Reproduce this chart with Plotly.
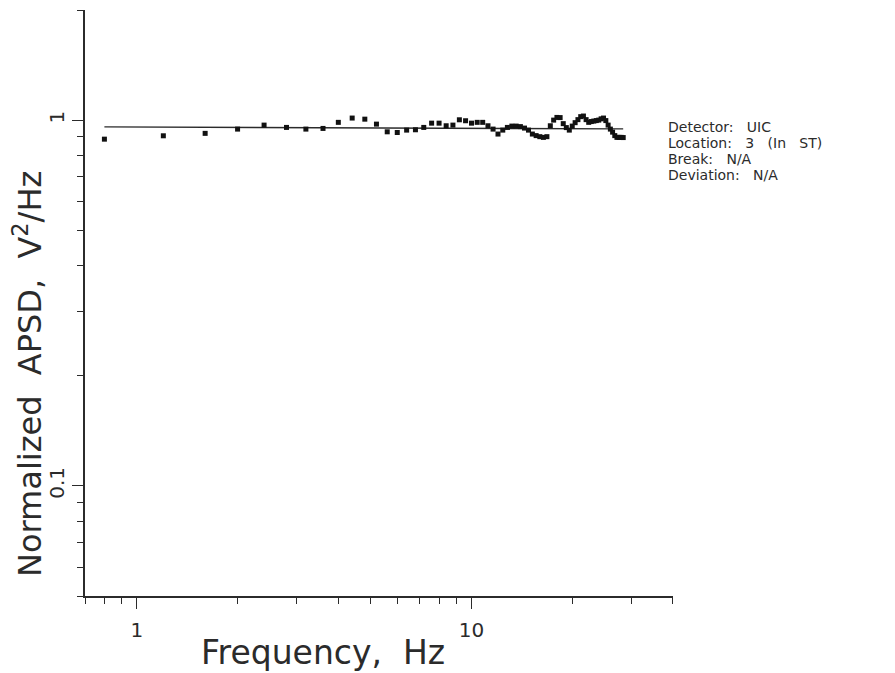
import plotly.graph_objects as go

# ---- data ----
freq_hz = [0.8, 1.2, 1.6, 2.0, 2.4, 2.8, 3.2, 3.6, 4.0, 4.4, 4.8, 5.2, 5.6, 6.0, 6.4, 6.8,
           7.2, 7.6, 8.0, 8.4, 8.8, 9.2, 9.6, 10.0, 10.4, 10.8, 11.2, 11.6, 12.0, 12.4,
           12.8, 13.2, 13.6, 14.0, 14.4, 14.8, 15.2, 15.6, 16.0, 16.4, 16.8, 17.2, 17.6,
           18.0, 18.4, 18.8, 19.2, 19.6, 20.0, 20.4, 20.8, 21.2, 21.6, 22.0, 22.4, 22.8,
           23.2, 23.6, 24.0, 24.4, 24.8, 25.2, 25.6, 26.0, 26.4, 26.8, 27.2, 27.6, 28.0, 28.4]
apsd = [0.887, 0.906, 0.920, 0.945, 0.969, 0.955, 0.945, 0.949, 0.986, 1.013, 1.006, 0.975,
        0.929, 0.925, 0.939, 0.941, 0.955, 0.981, 0.981, 0.965, 0.969, 1.002, 0.996, 0.981,
        0.986, 0.986, 0.965, 0.945, 0.916, 0.939, 0.955, 0.963, 0.963, 0.960, 0.951, 0.939,
        0.916, 0.907, 0.901, 0.897, 0.901, 0.965, 1.000, 1.017, 1.016, 0.978, 0.954, 0.939,
        0.963, 0.984, 1.003, 1.022, 1.026, 1.003, 0.986, 0.991, 0.994, 0.997, 1.000, 1.008,
        1.013, 0.997, 0.969, 0.945, 0.927, 0.907, 0.897, 0.897, 0.897, 0.896]
fit_freq = [0.8, 28.4]
fit_apsd = [0.958, 0.946]

x_major = [1, 10]
x_major_text = ["1", "10"]
x_minor = [0.7, 0.8, 0.9, 2, 3, 4, 5, 6, 7, 8, 9, 20, 30, 40]
y_major = [0.1, 1]
y_major_text = ["0.1", "1"]
y_minor = [0.05, 0.06, 0.07, 0.08, 0.09, 0.2, 0.3, 0.4, 0.5, 0.6, 0.7, 0.8, 0.9, 2]

S = "\u00a0\u00a0 "
info_lines = ["Detector:" + S + "UIC", "Location:" + S + "3" + S + "(In" + S + "ST)",
              "Break:" + S + "N/A", "Deviation:" + S + "N/A"]

FONT = "DejaVu Sans"
INK = "#2b2b2b"

fig = go.Figure()
fig.add_trace(go.Scatter(x=fit_freq, y=fit_apsd, mode="lines",
                         line=dict(color=INK, width=1.3), showlegend=False))
fig.add_trace(go.Scatter(x=freq_hz, y=apsd, mode="markers",
                         marker=dict(symbol="square", size=5, color="#111111"),
                         showlegend=False))

axis_common = dict(type="log", showgrid=False, zeroline=False, showline=True,
                   linecolor=INK, linewidth=1.5, ticks="outside", ticklen=11,
                   tickwidth=1.3, tickcolor=INK, mirror=False,
                   tickfont=dict(family=FONT, size=20, color=INK))

fig.update_xaxes(**axis_common, range=[-0.1549, 1.6021], tickmode="array",
                 tickvals=x_major, ticktext=x_major_text, ticklabelstandoff=4,
                 minor=dict(tickmode="array", tickvals=x_minor, ticks="outside",
                            ticklen=6, tickwidth=1.3, tickcolor=INK))
fig.update_yaxes(**axis_common, range=[-1.30103, 0.30103], tickmode="array",
                 tickvals=y_major, ticktext=y_major_text, tickangle=-90,
                 minor=dict(tickmode="array", tickvals=y_minor, ticks="outside",
                            ticklen=6, tickwidth=1.3, tickcolor=INK))

annotations = [
    dict(text="Frequency,\u00a0 Hz", xref="paper", yref="paper",
         x=(323 - 85) / 588, y=-(652 - 596) / 586, xanchor="center", yanchor="middle",
         showarrow=False, font=dict(family=FONT, size=33, color=INK)),
    dict(text="Normalized\u00a0 APSD,\u00a0 V<sup>2</sup>/Hz", xref="paper", yref="paper",
         x=-(85 - 28) / 588, y=1 - (374 - 10) / 586, xanchor="center", yanchor="middle",
         textangle=-90, showarrow=False, font=dict(family=FONT, size=32, color=INK)),
]
for i, line in enumerate(info_lines):
    annotations.append(dict(text=line, xref="paper", yref="paper",
                            x=(666 - 85) / 588, y=1 - (127 + 16 * i - 10) / 586,
                            xanchor="left", yanchor="middle", showarrow=False,
                            font=dict(family=FONT, size=14, color=INK)))

fig.update_layout(width=895, height=673, margin=dict(l=85, r=222, t=10, b=77),
                  plot_bgcolor="white", paper_bgcolor="white",
                  annotations=annotations)

fig.write_html("out.html")
